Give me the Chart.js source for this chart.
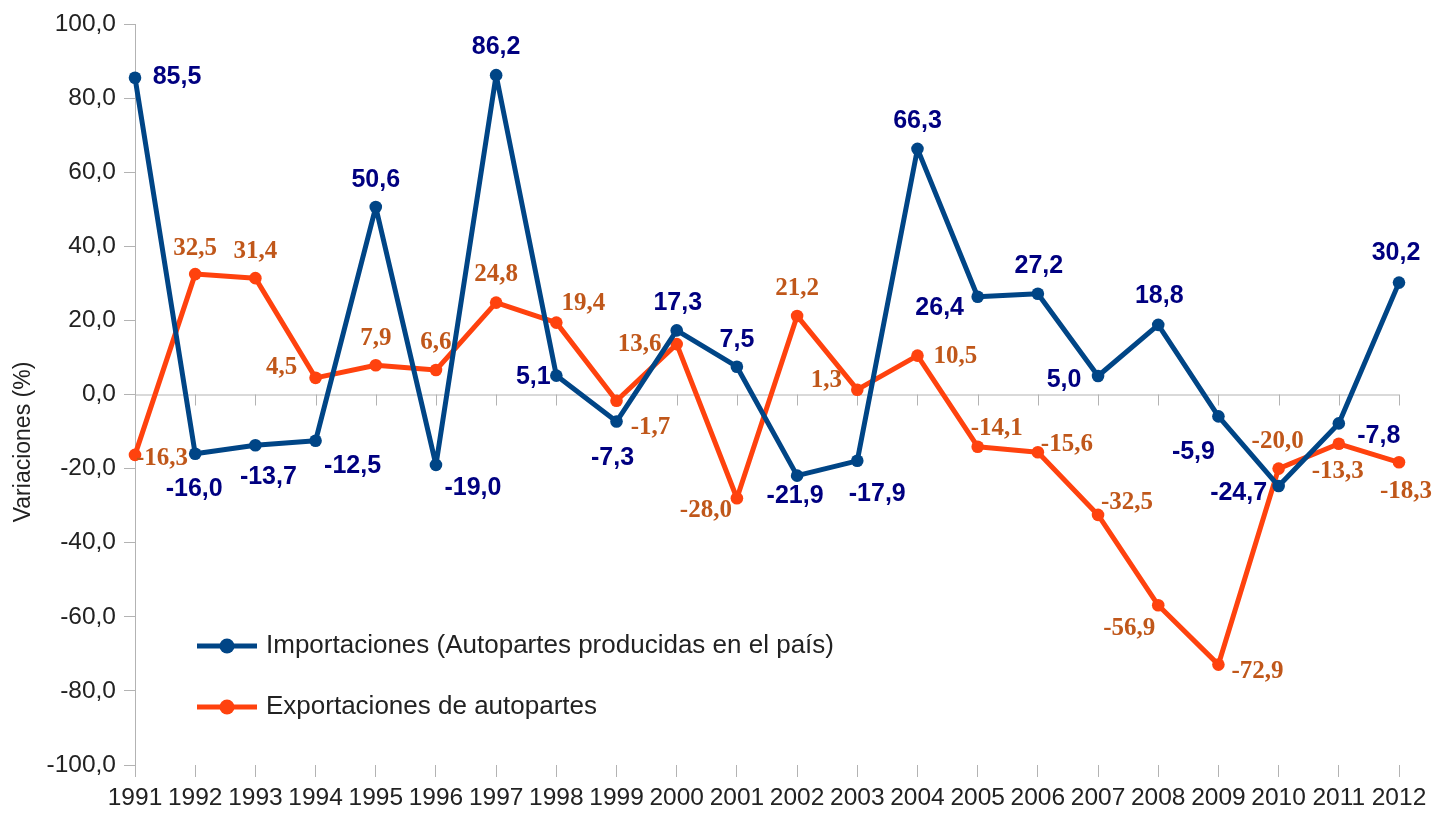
<!DOCTYPE html>
<html>
<head>
<meta charset="utf-8">
<script src="https://cdn.jsdelivr.net/npm/chart.js@4.4.1/dist/chart.umd.min.js"></script>
<style>
  html, body { margin: 0; padding: 0; background: #ffffff; }
  #wrap { width: 1434px; height: 813px; position: relative; }
</style>
</head>
<body>
<div id="wrap"><canvas id="c" width="1434" height="813"></canvas></div>
<script>
// ---- data ----
const years = ['1991','1992','1993','1994','1995','1996','1997','1998','1999','2000','2001','2002','2003','2004','2005','2006','2007','2008','2009','2010','2011','2012'];
const importaciones = [85.5, -16.0, -13.7, -12.5, 50.6, -19.0, 86.2, 5.1, -7.3, 17.3, 7.5, -21.9, -17.9, 66.3, 26.4, 27.2, 5.0, 18.8, -5.9, -24.7, -7.8, 30.2];
const exportaciones = [-16.3, 32.5, 31.4, 4.5, 7.9, 6.6, 24.8, 19.4, -1.7, 13.6, -28.0, 21.2, 1.3, 10.5, -14.1, -15.6, -32.5, -56.9, -72.9, -20.0, -13.3, -18.3];
const yTickValues = [-100, -80, -60, -40, -20, 0, 20, 40, 60, 80, 100];
const seriesNames = ['Importaciones (Autopartes producidas en el país)', 'Exportaciones de autopartes'];
const yTitle = 'Variaciones (%)';

// ---- label placement (pixel offsets of label centre from point) ----
const impLabelOffsets = [[42,-1],[-1,35],[13,32],[37,25],[0,-27],[37,23],[0,-28],[-23,2],[-4,37],[1,-27],[0,-27],[-2,20],[20,33],[0,-28],[-38,11],[1,-28],[-34,4],[1,-29],[-25,36],[-40,7],[40,13],[-3,-29]];
const expLabelOffsets = [[27,4],[0,-26],[0,-27],[-34,-10],[0,-27],[0,-28],[0,-28],[27,-19],[34,27],[-37,0],[-31,12],[0,-27],[-31,-9],[38,1],[19,-18],[29,-8],[29,-12],[-29,23],[39,7],[-1,-27],[-1,28],[7,29]];

const fmt = v => v.toFixed(1).replace('.', ',');
const AXIS = '#b3b3b3';
const TEXT = '#222222';
const BLUE = '#004586';
const ORANGE = '#ff420e';

const zeroLinePlugin = {
  id: 'zeroLine',
  beforeDatasetsDraw(chart) {
    const ctx = chart.ctx, x = chart.scales.x, y = chart.scales.y;
    const y0 = y.getPixelForValue(0);
    ctx.save();
    ctx.strokeStyle = AXIS;
    ctx.lineWidth = 1;
    ctx.beginPath();
    ctx.moveTo(chart.chartArea.left, y0 + 0.5);
    ctx.lineTo(chart.chartArea.right, y0 + 0.5);
    for (let i = 0; i < years.length; i++) {
      const px = Math.round(x.getPixelForValue(i)) + 0.5;
      ctx.moveTo(px, y0);
      ctx.lineTo(px, y0 + 11);
    }
    ctx.stroke();
    ctx.restore();
  }
};

const labelsPlugin = {
  id: 'pointLabels',
  afterDatasetsDraw(chart) {
    const ctx = chart.ctx;
    const cfgs = [
      { font: 'bold 25px "Liberation Sans", Arial, sans-serif', color: '#000080', offs: impLabelOffsets },
      { font: 'bold 25px "Liberation Serif", "Times New Roman", serif', color: '#c0571a', offs: expLabelOffsets }
    ];
    ctx.save();
    ctx.textAlign = 'center';
    ctx.textBaseline = 'middle';
    chart.data.datasets.forEach((ds, di) => {
      const meta = chart.getDatasetMeta(di);
      const c = cfgs[di];
      ctx.font = c.font;
      ctx.fillStyle = c.color;
      meta.data.forEach((pt, i) => {
        const o = c.offs[i];
        ctx.fillText(fmt(ds.data[i]), pt.x + o[0], pt.y + o[1]);
      });
    });
    ctx.restore();
  }
};

const legendPlugin = {
  id: 'insideLegend',
  afterDraw(chart) {
    const ctx = chart.ctx;
    const rows = [646, 707];
    ctx.save();
    chart.data.datasets.forEach((ds, i) => {
      const yy = rows[i];
      ctx.strokeStyle = ds.borderColor;
      ctx.lineWidth = 5;
      ctx.beginPath();
      ctx.moveTo(197, yy);
      ctx.lineTo(257, yy);
      ctx.stroke();
      ctx.fillStyle = ds.borderColor;
      ctx.beginPath();
      ctx.arc(227, yy, 7.5, 0, Math.PI * 2);
      ctx.fill();
      ctx.fillStyle = TEXT;
      ctx.font = '26px "Liberation Sans", Arial, sans-serif';
      ctx.textAlign = 'left';
      ctx.textBaseline = 'middle';
      ctx.fillText(ds.label, 266, yy);
    });
    // y axis title
    ctx.translate(24, 442);
    ctx.rotate(-Math.PI / 2);
    ctx.fillStyle = TEXT;
    ctx.font = '23px "Liberation Sans", Arial, sans-serif';
    ctx.textAlign = 'center';
    ctx.textBaseline = 'middle';
    ctx.fillText(yTitle, 0, 0);
    ctx.restore();
  }
};

new Chart(document.getElementById('c'), {
  type: 'line',
  data: {
    labels: years,
    datasets: [
      { label: seriesNames[0], data: importaciones, borderColor: BLUE, backgroundColor: BLUE,
        borderWidth: 5, borderJoinStyle: 'round', borderCapStyle: 'round',
        pointRadius: 6.3, pointBackgroundColor: BLUE, pointBorderWidth: 0,
        tension: 0, clip: false },
      { label: seriesNames[1], data: exportaciones, borderColor: ORANGE, backgroundColor: ORANGE,
        borderWidth: 5, borderJoinStyle: 'round', borderCapStyle: 'round',
        pointRadius: 6.3, pointBackgroundColor: ORANGE, pointBorderWidth: 0,
        tension: 0, clip: false }
    ]
  },
  options: {
    responsive: false,
    animation: false,
    devicePixelRatio: 1,
    layout: { padding: { top: 24, right: 35, left: 0, bottom: 0 } },
    plugins: { legend: { display: false }, tooltip: { enabled: false } },
    scales: {
      x: {
        type: 'category',
        offset: false,
        border: { display: false },
        grid: { display: true, drawOnChartArea: false, drawTicks: true, tickLength: 12, color: AXIS },
        ticks: { color: TEXT, font: { family: '"Liberation Sans", Arial, sans-serif', size: 24.5 },
                 padding: 7, maxRotation: 0, autoSkip: false },
        afterFit(s) { s.height = 48; }
      },
      y: {
        min: -100, max: 100,
        border: { display: true, color: AXIS, width: 1 },
        grid: { display: true, drawOnChartArea: false, drawTicks: true, tickLength: 11, color: AXIS },
        ticks: { color: TEXT, font: { family: '"Liberation Sans", Arial, sans-serif', size: 24.5 },
                 padding: 8, callback: v => fmt(v) },
        afterBuildTicks(s) { s.ticks = yTickValues.map(v => ({ value: v })); },
        afterFit(s) { s.width = 135; }
      }
    }
  },
  plugins: [zeroLinePlugin, labelsPlugin, legendPlugin]
});
</script>
</body>
</html>
